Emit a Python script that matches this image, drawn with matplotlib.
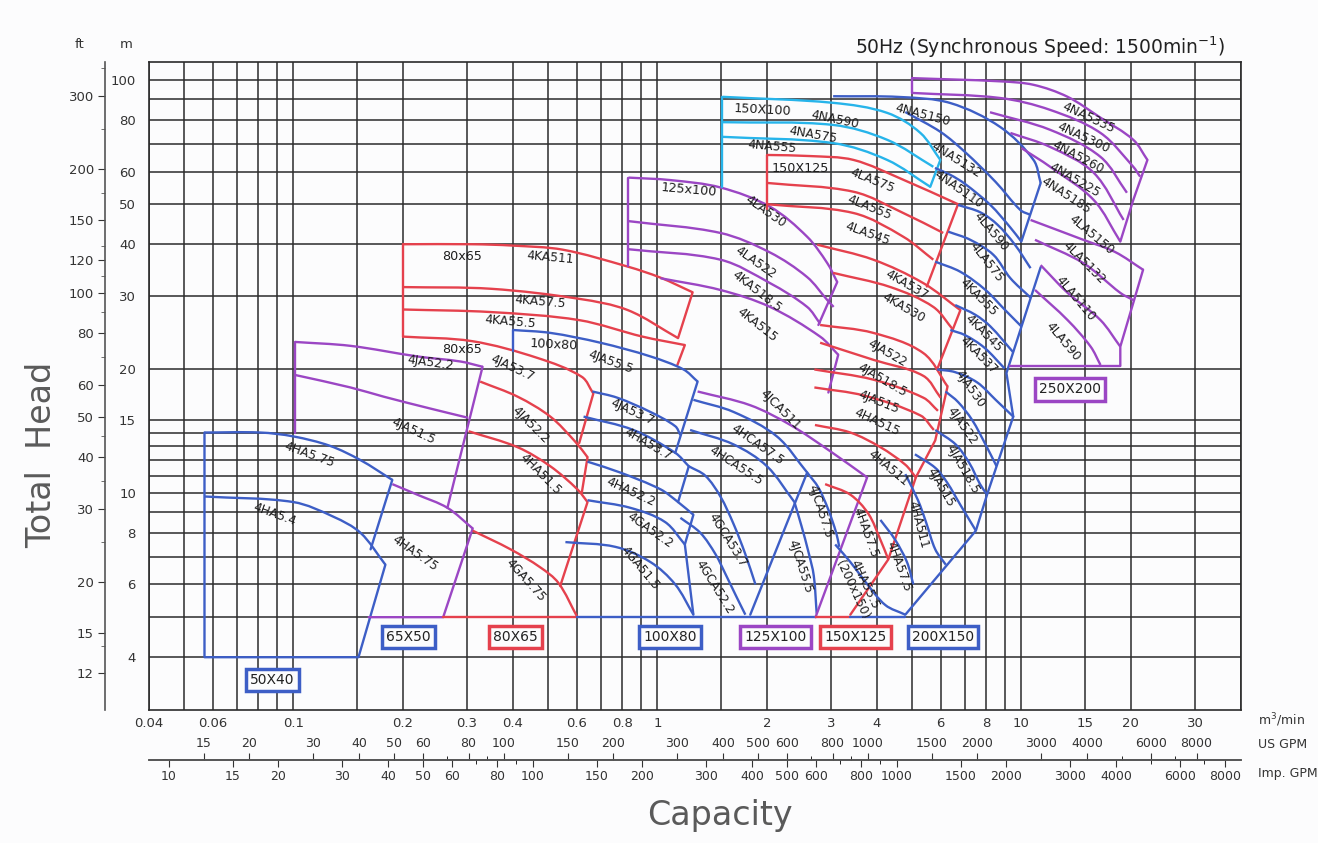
import numpy as np
import matplotlib.pyplot as plt
from matplotlib.path import Path
from matplotlib.patches import PathPatch
from matplotlib.ticker import FixedLocator, NullFormatter, NullLocator

plt.rcParams['font.family'] = ['DejaVu Sans']

BLUE = '#3d5ec6'
RED = '#e5414d'
PURPLE = '#9b46c4'
CYAN = '#27b4ea'
GRID = '#2b2b2b'

# grid and axis values
x_grid = [0.04, 0.05, 0.06, 0.07, 0.08, 0.09, 0.1, 0.15, 0.2, 0.3, 0.4, 0.5, 0.6, 0.7,
          0.8, 0.9, 1, 1.5, 2, 3, 4, 5, 6, 7, 8, 9, 10, 15, 20, 30, 40]
y_grid = [4, 5, 6, 7, 8, 9, 10, 11, 12, 13, 14, 15, 20, 30, 40, 50, 60, 70, 80, 90, 100]
x_labels = [0.04, 0.06, 0.1, 0.2, 0.3, 0.4, 0.6, 0.8, 1, 2, 3, 4, 6, 8, 10, 15, 20, 30]
y_labels = [4, 6, 8, 10, 15, 20, 30, 40, 50, 60, 80, 100]
ft_labels = [12, 15, 20, 30, 40, 50, 60, 80, 100, 120, 150, 200, 300]
ft_minor = [14, 25, 35, 45, 70, 90, 110, 130, 175, 250, 350]
us_gpm = [15, 20, 30, 40, 50, 60, 80, 100, 150, 200, 300, 400, 500, 600, 800, 1000,
          1500, 2000, 3000, 4000, 6000, 8000]
us_minor = [70, 90, 700, 900, 5000, 7000]
imp_gpm = [10, 15, 20, 30, 40, 50, 60, 80, 100, 150, 200, 300, 400, 500, 600, 800, 1000,
           1500, 2000, 3000, 4000, 6000, 8000]
imp_minor = [70, 90, 700, 900, 5000, 7000]

# ---------------- pump curves: (model, capacity m3/min, head m) ----------------
# each family: curves, outline segments, label spots (capacity, head, angle)
c_50x40 = [
    ("4HA5.75", [0.057, 0.081, 0.100, 0.126, 0.153, 0.187], [14.0, 14.0, 13.7, 13.0, 12.0, 10.75]),
    ("4HA5.4", [0.057, 0.100, 0.129, 0.153, 0.179], [9.8, 9.5, 8.75, 8.0, 6.7]),
]
e_50x40 = [([0.057, 0.057, 0.151, 0.179], [14.0, 4.0, 4.0, 6.7]),
           ([0.187, 0.163], [10.75, 7.3])]
l_50x40 = [(0.111, 12.4, -20), (0.089, 8.85, -20)]

c_65x50 = [
    ("4JA52.2", [0.101, 0.1435, 0.219, 0.288, 0.331], [23.2, 22.7, 21.4, 20.8, 20.2]),
    ("4JA51.5", [0.101, 0.1435, 0.177, 0.238, 0.302], [19.3, 18.0, 17.1, 16.0, 15.2]),
    ("4HA5.75", [0.187, 0.219, 0.265, 0.311], [10.5, 9.9, 9.2, 8.2]),
]
e_65x50 = [([0.101, 0.101], [14.0, 23.2]),
           ([0.331, 0.265], [20.2, 9.2]),
           ([0.311, 0.258, 0.161], [8.2, 5.0, 5.0])]
l_65x50 = [(0.238, 20.7, -8), (0.214, 14.1, -25), (0.216, 7.16, -35)]

c_80x65a = [
    ("4KA511", [0.20, 0.31, 0.40, 0.55, 0.83, 1.02, 1.25], [40, 40, 39.7, 38.8, 35.3, 33.2, 30.6]),
    ("4KA57.5", [0.20, 0.35, 0.61, 0.83, 1.14], [31.5, 31.2, 29.5, 27.7, 23.7]),
    ("4KA55.5", [0.20, 0.35, 0.61, 0.91, 1.19], [27.8, 27.4, 26.2, 23.9, 22.8]),
]
e_80x65a = [([0.20, 0.20], [23.9, 40]),
            ([1.25, 1.14], [30.6, 23.7]),
            ([1.19, 1.135], [22.8, 20.4])]
l_80x65a = [(0.508, 37.1, -5), (0.477, 29.0, -5), (0.395, 25.9, -5)]

c_80x65b = [
    ("4JA53.7", [0.20, 0.31, 0.47, 0.62, 0.667], [23.9, 23.3, 21.2, 19.1, 17.4]),
    ("4JA52.2", [0.326, 0.413, 0.508, 0.595, 0.643], [18.6, 17.1, 15.3, 13.3, 12.2]),
    ("4HA51.5", [0.303, 0.413, 0.508, 0.603, 0.643], [14.1, 12.9, 11.6, 10.2, 9.5]),
    ("4GA5.75", [0.311, 0.395, 0.477, 0.535, 0.603], [8.1, 7.3, 6.6, 6.05, 5.0]),
]
e_80x65b = [([0.667, 0.61], [17.4, 13.2]),
            ([0.643, 0.62], [12.2, 10.0]),
            ([0.643, 0.541], [9.5, 5.95]),
            ([0.258, 0.603], [5.0, 5.0])]
l_80x65b = [(0.400, 20.1, -25), (0.448, 14.6, -45), (0.477, 11.1, -45), (0.434, 6.15, -48)]

c_100x80 = [
    ("4JA55.5", [0.40, 0.508, 0.697, 0.957, 1.18, 1.29], [24.8, 24.4, 23.1, 21.4, 19.9, 18.6]),
    ("4JA53.7", [0.663, 0.776, 0.957, 1.12, 1.157], [17.6, 17.0, 15.7, 14.5, 13.8]),
    ("4HA53.7", [0.627, 0.859, 1.12, 1.22], [15.3, 14.2, 12.5, 11.6]),
    ("4HA52.2", [0.643, 0.791, 1.02, 1.14, 1.256], [11.9, 11.2, 10.2, 9.5, 8.85]),
    ("4GA52.2", [0.643, 0.843, 1.05, 1.19], [9.6, 9.2, 8.5, 7.5]),
    ("4GA51.5", [0.559, 0.767, 0.957, 1.12, 1.256], [7.6, 7.4, 6.8, 6.0, 5.07]),
]
e_100x80 = [([0.40, 0.40], [22.0, 24.8]),
            ([1.29, 1.12], [18.6, 12.5]),
            ([1.22, 1.14], [11.6, 9.5]),
            ([1.256, 1.19, 1.256], [8.85, 7.5, 5.07]),
            ([0.603, 1.256], [5.0, 5.0])]
l_100x80 = [(0.743, 20.7, -20), (0.854, 15.7, -25), (0.945, 13.1, -30), (0.843, 10.05, -25),
            (0.957, 8.14, -35), (0.898, 6.58, -50)]

c_125x100 = [
    ("4LA530", [0.833, 1.086, 1.49, 2.04, 2.58, 2.93, 3.12], [58.0, 57.2, 54.9, 49.3, 41.7, 36.0, 32.4]),
    ("4LA522", [0.833, 1.49, 2.04, 2.58, 2.93, 3.05], [45.5, 42.6, 38.2, 33.3, 29.3, 28.2]),
    ("4KA518.5", [0.833, 1.49, 2.04, 2.58, 2.80], [38.9, 36.7, 32.2, 28.2, 25.7]),
    ("4KA515", [1.02, 1.49, 2.04, 2.80, 3.14], [33.1, 31.0, 28.2, 23.9, 21.6]),
]
e_125x100 = [([0.833, 0.833], [35.5, 58.0]),
             ([3.12, 2.77], [32.4, 25.5]),
             ([3.14, 2.95], [21.6, 17.5])]
l_125x100 = [(1.98, 47.9, -35), (1.86, 36.2, -35), (1.88, 30.7, -38), (1.88, 25.5, -38)]

c_125c = [
    ("4JCA511", [1.29, 1.80, 2.32, 2.99, 3.77], [17.6, 16.3, 14.6, 12.6, 10.9]),
]
e_125c = [([3.77, 2.72], [10.9, 5.0])]
l_125c = [(2.18, 15.9, -45)]

c_125cb = [
    ("4HCA57.5", [1.256, 1.62, 2.13, 2.58], [16.8, 15.7, 13.7, 11.2]),
    ("4HCA55.5", [1.23, 1.62, 2.0, 2.38], [14.2, 13.1, 11.6, 9.5]),
    ("4GCA53.7", [1.22, 1.355, 1.49, 1.62, 1.745, 1.86], [11.6, 11.0, 9.8, 8.4, 7.1, 6.0]),
    ("4GCA52.2", [1.157, 1.313, 1.445, 1.54, 1.65, 1.745], [8.7, 8.0, 7.1, 6.35, 5.6, 5.07]),
    ("4JCA57.5", [2.58, 2.77, 2.95, 3.10, 3.16], [11.2, 10.3, 9.1, 8.0, 7.4]),
    ("4JCA55.5", [2.38, 2.49, 2.60, 2.69, 2.74], [9.5, 8.3, 7.2, 6.3, 5.1]),
]
e_125cb = [([2.58, 1.80], [11.2, 5.07]),
           ([1.256, 2.72], [5.0, 5.0])]
l_125cb = [(1.88, 13.1, -35), (1.64, 11.6, -33), (1.56, 7.7, -58), (1.44, 5.92, -58),
           (2.80, 9.0, -72), (2.47, 6.62, -72)]

c_150x100 = [
    ("4NA590", [1.51, 3.04, 4.28, 5.28, 5.99], [91.0, 88.0, 83.2, 74.4, 64.0]),
    ("4NA575", [1.51, 3.04, 4.28, 5.73], [79.0, 77.8, 71.6, 61.6]),
    ("4NA555", [1.51, 3.04, 4.28, 5.62], [72.8, 70.3, 64.0, 55.1]),
]
e_150x100 = [([1.51, 1.51], [55.0, 91.0]),
             ([5.99, 5.62], [64.0, 55.1])]
l_150x100 = [(3.08, 80.0, -12), (2.68, 73.6, -10), (2.07, 68.9, -5)]

c_150x125a = [
    ("4LA575", [2.0, 2.63, 3.46, 4.74, 6.7], [65.8, 65.4, 64.0, 57.3, 50.0]),
    ("4LA555", [2.0, 3.46, 4.74, 6.10], [56.3, 53.6, 47.6, 42.6]),
    ("4LA545", [2.0, 3.46, 4.74, 5.73], [50.0, 47.6, 41.7, 36.7]),
]
e_150x125a = [([2.0, 2.0], [48.8, 65.8]),
              ([6.7, 5.50], [50.0, 31.6])]
l_150x125a = [(3.90, 57.2, -22), (3.82, 49.2, -22), (3.77, 42.4, -20)]

c_150x125b = [
    ("4KA537", [2.75, 3.92, 5.38, 6.80], [39.9, 36.7, 32.2, 27.7]),
    ("4KA530", [3.04, 4.37, 5.73, 6.50], [34.1, 31.5, 28.2, 24.8]),
    ("4JA522", [2.80, 3.92, 5.38, 6.27], [25.5, 24.4, 21.8, 18.1]),
    ("4JA518.5", [2.80, 3.92, 5.38, 6.0], [23.1, 21.0, 19.2, 17.0]),
    ("4JA515", [2.70, 3.92, 5.38, 5.9], [19.9, 18.8, 17.0, 15.8]),
    ("4HA515", [2.70, 3.70, 5.28, 5.75], [18.0, 17.2, 15.4, 14.2]),
    ("4HA511", [2.71, 3.39, 4.10, 4.80, 5.13], [14.6, 14.0, 12.9, 11.7, 10.9]),
    ("4HA57.5", [2.89, 3.39, 3.80, 4.10, 4.31], [10.5, 9.9, 8.9, 7.7, 6.9]),
]
e_150x125b = [([6.80, 5.87], [27.7, 19.9]),
              ([6.27, 5.80, 5.13], [18.1, 13.4, 10.9]),
              ([5.13, 4.31, 3.39], [10.9, 6.9, 5.07]),
              ([2.72, 3.39], [5.0, 5.0])]
l_150x125b = [(4.83, 31.9, -30), (4.74, 28.1, -30), (4.28, 21.8, -30), (4.15, 18.8, -30),
              (4.05, 16.6, -22), (4.02, 14.8, -25), (4.31, 11.5, -40), (3.73, 8.0, -70)]

c_200x150 = [
    ("4NA5150", [3.04, 4.65, 6.38, 8.75, 10.8, 11.3], [91.3, 90.9, 87.9, 76.9, 64.0, 56.3]),
    ("4NA5132", [4.8, 6.0, 7.0, 8.5, 9.94, 10.6], [83.6, 74.8, 66.9, 56.6, 48.4, 47.1]),
    ("4NA5110", [5.79, 6.38, 7.0, 8.22, 9.33, 10.0], [61.2, 58.9, 56.0, 49.8, 43.9, 40.6]),
    ("4LA590", [6.7, 7.71, 8.6, 9.6, 10.6], [49.8, 47.8, 44.6, 39.9, 35.0]),
    ("4LA575", [6.3, 7.24, 8.38, 9.33, 10.6], [42.9, 41.0, 37.7, 33.1, 29.7]),
    ("4KA555", [5.8, 6.8, 7.97, 9.03, 10.0], [36.3, 34.3, 31.0, 27.7, 25.3]),
    ("4KA545", [6.58, 7.47, 8.22, 9.5], [28.5, 27.0, 25.3, 21.9]),
    ("4KA537", [6.38, 7.0, 7.9, 9.0], [24.8, 24.1, 22.5, 20.0]),
    ("4JA530", [5.87, 6.58, 7.57, 8.5, 9.5], [19.9, 19.6, 18.5, 16.8, 15.3]),
    ("4JA522", [6.19, 6.7, 7.33, 7.97, 8.55], [17.6, 16.6, 15.0, 13.1, 11.6]),
    ("4JA518.5", [5.8, 6.6, 7.2, 7.7, 8.05], [14.2, 13.1, 11.8, 10.5, 9.9]),
    ("4JA515", [5.1, 5.8, 6.25, 6.8, 7.5], [12.4, 11.5, 10.6, 9.35, 8.1]),
    ("4HA511", [4.8, 5.2, 5.47, 5.8, 6.2], [11.1, 9.6, 8.5, 7.3, 6.7]),
    ("4HA57.5", [4.1, 4.5, 4.85, 5.05], [8.6, 7.7, 6.8, 6.0]),
    ("4HA55.5\n(200x150)", [3.08, 3.39, 3.75, 4.23, 4.8], [7.5, 6.8, 6.05, 5.35, 5.07]),
]
e_200x150 = [([11.3, 10.0], [56.3, 40.6]),
             ([11.3, 9.1, 9.5], [35.2, 19.5, 15.3]),
             ([9.5, 8.05, 7.5, 4.8], [15.3, 9.9, 8.1, 5.07]),
             ([3.39, 4.8], [5.0, 5.0])]
l_200x150 = [(5.35, 82.3, -15), (6.63, 64.0, -32), (6.7, 54.2, -35), (8.27, 42.9, -50),
             (8.0, 36.2, -52), (7.62, 29.8, -45), (7.9, 24.4, -45), (7.62, 21.6, -45),
             (7.24, 17.9, -55), (6.88, 14.5, -55), (6.88, 11.4, -60), (5.99, 10.3, -60),
             (5.21, 8.37, -75), (4.59, 6.62, -70), (3.57, 5.92, -65)]

c_250x200 = [
    ("4NA5335", [5.0, 8.75, 10.8, 13.4, 16.5, 20.3, 22.2], [101, 99.2, 97.3, 91.0, 81.0, 71.6, 64.0]),
    ("4NA5300", [5.0, 8.75, 12.0, 16.5, 20.3, 21.2], [93.0, 90.4, 84.6, 74.4, 61.6, 58.3]),
    ("4NA5260", [8.2, 12.0, 16.5, 19.5], [83.5, 75.7, 65.1, 53.3]),
    ("4NA5225", [9.33, 12.0, 15.8, 19.1], [74.4, 68.8, 59.6, 45.8]),
    ("4NA5185", [10.0, 12.0, 15.8, 18.7], [68.4, 61.6, 51.2, 40.6]),
    ("4LA5150", [10.6, 14.8, 18.1, 21.6], [45.8, 41.0, 38.3, 34.7]),
    ("4LA5132", [10.9, 14.8, 18.7, 20.3], [41.0, 36.0, 30.5, 29.3]),
    ("4LA5110", [11.3, 13.4, 16.5, 18.7], [35.6, 30.5, 26.2, 22.6]),
    ("4LA590", [10.9, 13.4, 15.5, 16.5], [31.0, 26.2, 22.6, 20.4]),
]
e_250x200 = [([5.0, 5.0], [93.0, 101]),
             ([22.2, 20.3, 18.7], [64.0, 51.2, 40.6]),
             ([21.6, 18.7, 18.7], [34.7, 22.6, 20.3]),
             ([9.3, 18.7], [20.3, 20.3])]
l_250x200 = [(15.3, 80.9, -25), (14.8, 72.4, -25), (14.3, 65.1, -28), (14.0, 57.2, -30),
             (13.3, 52.4, -33), (15.6, 42.2, -40), (14.9, 36.0, -45), (14.1, 29.6, -50),
             (13.0, 23.2, -50)]

groups = [
    (BLUE, c_50x40, e_50x40, l_50x40),
    (PURPLE, c_65x50, e_65x50, l_65x50),
    (RED, c_80x65a, e_80x65a, l_80x65a),
    (RED, c_80x65b, e_80x65b, l_80x65b),
    (BLUE, c_100x80, e_100x80, l_100x80),
    (PURPLE, c_125x100, e_125x100, l_125x100),
    (BLUE, c_125cb, e_125cb, l_125cb),
    (PURPLE, c_125c, e_125c, l_125c),
    (CYAN, c_150x100, e_150x100, l_150x100),
    (RED, c_150x125a, e_150x125a, l_150x125a),
    (RED, c_150x125b, e_150x125b, l_150x125b),
    (BLUE, c_200x150, e_200x150, l_200x150),
    (PURPLE, c_250x200, e_250x200, l_250x200),
]

# size boxes: (name, capacity, head, colour)
boxes = [("50X40", 0.0875, 3.52, BLUE), ("65X50", 0.207, 4.48, BLUE),
         ("80X65", 0.407, 4.48, RED), ("100X80", 1.086, 4.48, BLUE),
         ("125X100", 2.11, 4.48, PURPLE), ("150X125", 3.50, 4.48, RED),
         ("200X150", 6.10, 4.48, BLUE), ("250X200", 13.6, 17.8, PURPLE)]
# size captions written on the chart
captions = [("80x65", 0.29, 37.3, 0), ("80x65", 0.29, 22.2, 0), ("100x80", 0.52, 22.8, -3),
            ("125x100", 1.217, 54.2, -5), ("150X100", 1.95, 84.6, -3), ("150X125", 2.47, 60.9, 0)]

W, H = 1318, 843
fig = plt.figure(figsize=(W / 100, H / 100), dpi=100, facecolor='#fcfcfd')
ax = fig.add_axes([148.5 / W, 1 - 710 / H, (1240.5 - 148.5) / W, (710 - 62) / H])
ax.set_facecolor('#fcfcfd')
ax.set_xscale('log')
ax.set_yscale('log')
ax.set_xlim(0.04, 40)
ax.set_ylim(2.98, 110.5)
ax.xaxis.set_minor_locator(NullLocator())
ax.yaxis.set_minor_locator(NullLocator())

for v in x_grid:
    ax.axvline(v, color=GRID, lw=1.1, zorder=1)
for v in y_grid:
    ax.axhline(v, color=GRID, lw=1.1, zorder=1)
for s in ax.spines.values():
    s.set_color(GRID)
    s.set_linewidth(1.2)

ax.set_xticks(x_labels, [f'{v:g}' for v in x_labels])
ax.set_yticks(y_labels, [f'{v:g}' for v in y_labels])
ax.tick_params(length=0, labelsize=9.5, colors='#333333')
ax.tick_params(axis='y', pad=9)
ax.tick_params(axis='x', pad=5)

YS = 413 / 364  # head decade is taller than capacity decade on the sheet


def smooth(q, h):
    # Bezier segments through the read points, tangents scaled by chord length
    P = np.c_[np.log10(q), np.log10(h) * YS]
    n = len(P)
    d = np.zeros_like(P)
    d[0] = P[1] - P[0]
    d[-1] = P[-1] - P[-2]
    d[1:-1] = P[2:] - P[:-2]
    d /= np.hypot(d[:, 0], d[:, 1])[:, None]
    verts = [P[0]]
    codes = [Path.MOVETO]
    for i in range(n - 1):
        L = np.hypot(*(P[i + 1] - P[i])) / 3
        verts += [P[i] + d[i] * L, P[i + 1] - d[i + 1] * L, P[i + 1]]
        codes += [Path.CURVE4] * 3
    V = np.array(verts)
    return Path(np.c_[10 ** V[:, 0], 10 ** (V[:, 1] / YS)], codes)


for color, curves, edges, spots in groups:
    for (name, q, h), (lq, lh, rot) in zip(curves, spots):
        ax.add_patch(PathPatch(smooth(q, h), fill=False, ec=color, lw=1.7, zorder=3))
        ax.text(lq, lh, name, rotation=rot, rotation_mode='anchor', ha='center',
                va='center', fontsize=8.8, color='#1e1e1e', zorder=5, linespacing=1.0)
    for q, h in edges:
        ax.plot(q, h, color=color, lw=1.7, zorder=3, solid_capstyle='round')

for name, q, h, color in boxes:
    ax.text(q, h, name, ha='center', va='center', fontsize=10, color='#222222', zorder=6,
            bbox=dict(boxstyle='square,pad=0.3', fc='#fcfcfd', ec=color, lw=2.5))
for name, q, h, rot in captions:
    ax.text(q, h, name, ha='center', va='center', rotation=rot, fontsize=9.2,
            color='#1e1e1e', zorder=5)

# ft axis
ft = ax.secondary_yaxis(-0.0398, functions=(lambda m: m / 0.3048, lambda f: f * 0.3048))
ft.set_yticks(ft_labels, [f'{v:g}' for v in ft_labels])
ft.yaxis.set_minor_locator(FixedLocator(ft_minor))
ft.yaxis.set_minor_formatter(NullFormatter())
ft.tick_params(which='major', length=5, labelsize=9.5, colors='#333333', pad=3)
ft.tick_params(which='minor', length=3, colors='#555555')
ft.spines['left'].set_linewidth(1.2)
ft.spines['left'].set_color('#555555')

# flow axes in gallons
us = ax.secondary_xaxis(-0.0772, functions=(lambda q: q * 264.17, lambda g: g / 264.17))
us.set_alignment('top')
us.set_xticks(us_gpm, [f'{v:g}' for v in us_gpm])
us.xaxis.set_minor_locator(FixedLocator(us_minor))
us.xaxis.set_minor_formatter(NullFormatter())
us.tick_params(which='major', length=5, labelsize=9, colors='#333333', pad=2)
us.tick_params(which='minor', length=3)

imp = ax.secondary_xaxis(-0.0772, functions=(lambda q: q * 219.97, lambda g: g / 219.97))
imp.set_alignment('bottom')
imp.set_xticks(imp_gpm, [f'{v:g}' for v in imp_gpm])
imp.xaxis.set_minor_locator(FixedLocator(imp_minor))
imp.xaxis.set_minor_formatter(NullFormatter())
imp.tick_params(which='major', length=5, labelsize=9, colors='#333333', pad=2)
imp.tick_params(which='minor', length=3)
for a in (us, imp):
    for s in a.spines.values():
        s.set_color('#555555')
        s.set_linewidth(1.2)

fig.text(1258 / W, 1 - 720 / H, 'm$^3$/min', fontsize=9, va='center', color='#333333')
fig.text(1258 / W, 1 - 745 / H, 'US GPM', fontsize=9, va='center', color='#333333')
fig.text(1258 / W, 1 - 773 / H, 'Imp. GPM', fontsize=9, va='center', color='#333333')
fig.text(80 / W, 1 - 45 / H, 'ft', fontsize=9.5, ha='center', va='center', color='#333333')
fig.text(126 / W, 1 - 45 / H, 'm', fontsize=9.5, ha='center', va='center', color='#333333')
fig.text(1225 / W, 1 - 47 / H, '50Hz (Synchronous Speed: 1500min$^{-1}$)', fontsize=13.5,
         ha='right', va='center', color='#222222')
fig.text(42 / W, 1 - 455 / H, 'Total  Head', rotation=90, fontsize=24, ha='center',
         va='center', color='#5a5a5a')
fig.text(720 / W, 1 - 815 / H, 'Capacity', fontsize=24, ha='center', va='center',
         color='#5a5a5a')

fig.savefig('out.png', dpi=100, facecolor=fig.get_facecolor())
